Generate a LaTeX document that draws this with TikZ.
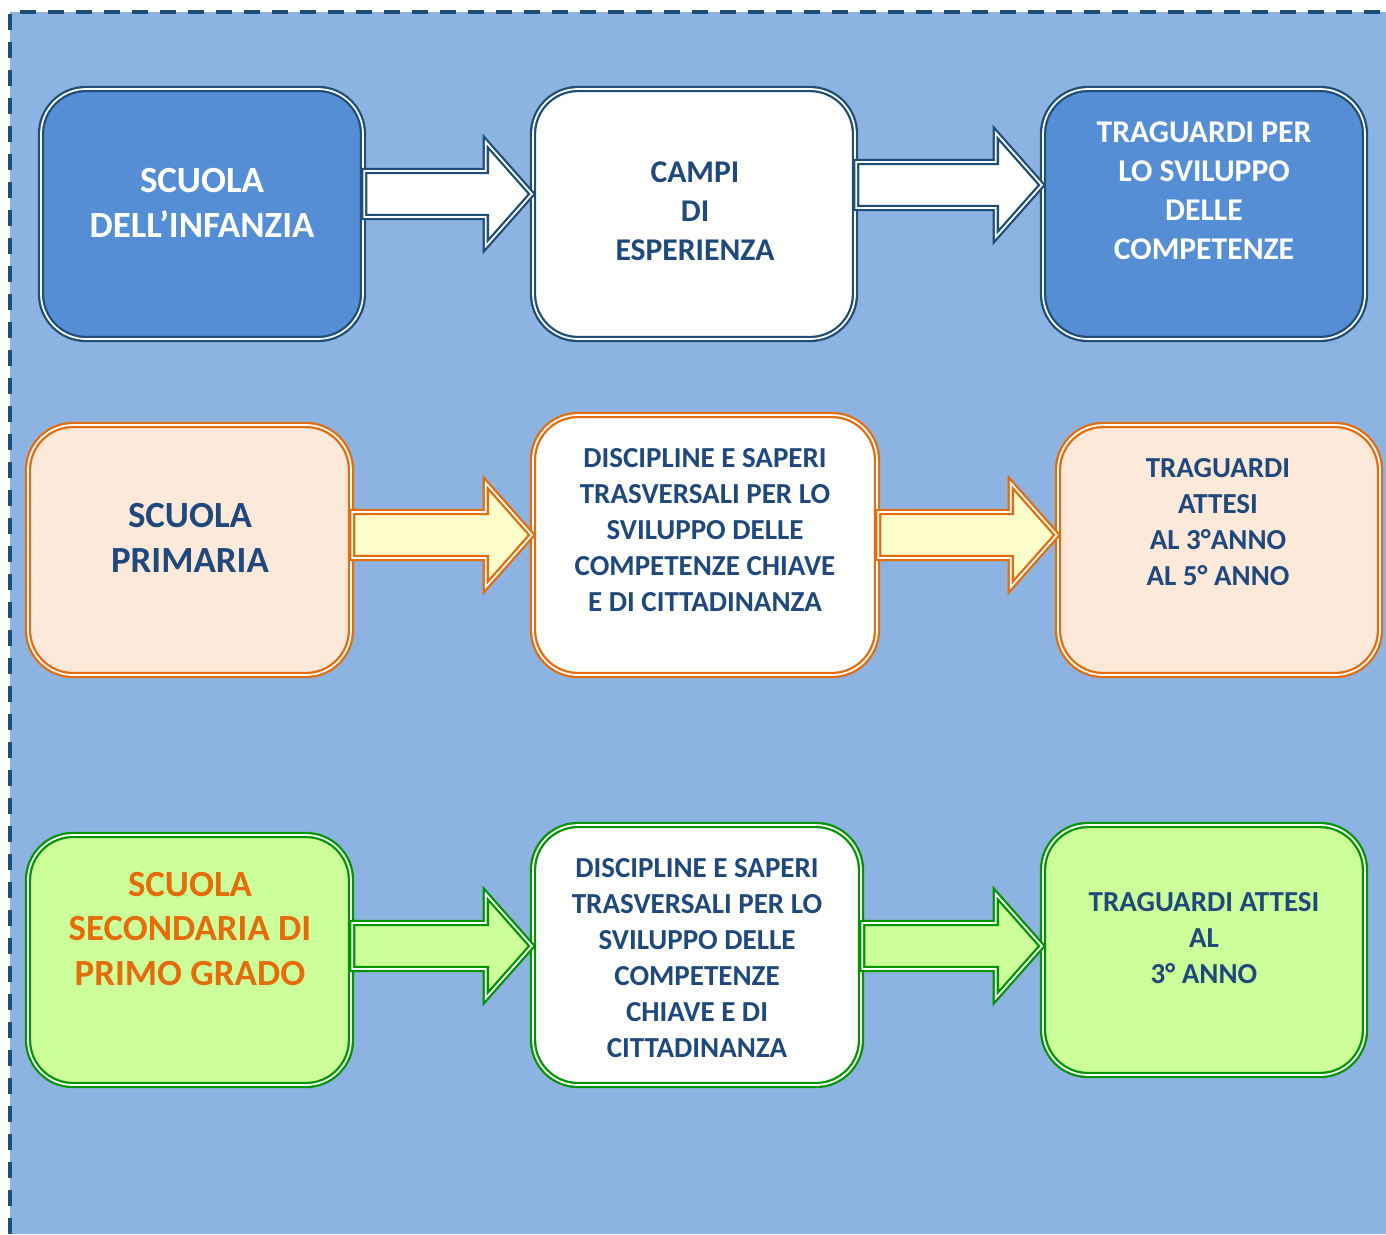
\documentclass[tikz,border=0pt]{standalone}
\usepackage{fontspec}
\setmainfont{Carlito}
\usetikzlibrary{calc}
\usepackage{xcolor}
\definecolor{sfondo}{RGB}{141,179,226}
\definecolor{bordoblu}{RGB}{31,78,121}
\definecolor{testoblu}{RGB}{31,73,125}
\definecolor{infanziablu}{RGB}{85,142,213}
\definecolor{arancio}{RGB}{228,108,10}
\definecolor{pesca}{RGB}{253,233,217}
\definecolor{giallino}{RGB}{255,255,204}
\definecolor{verde}{RGB}{0,150,0}
\definecolor{verdino}{RGB}{204,255,153}

% freccia larga da un box all'altro, #4 = quota y dell'asse
\newcommand{\frecciona}[4][]{%
  \draw[freccia,#1] let \p1=(#2.east), \p2=(#3.west), \p3=(0,#4) in
    (\x1,\y3+4.6mm) -- (\x2-9.2mm,\y3+4.6mm) -- (\x2-9.2mm,\y3+10.4mm) -- (\x2,\y3)
    -- (\x2-9.2mm,\y3-10.4mm) -- (\x2-9.2mm,\y3-4.6mm) -- (\x1,\y3-4.6mm) -- cycle;
}

\begin{document}
\begin{tikzpicture}[x=0.2mm, y=-0.2mm, font=\bfseries,
    box/.style={rounded corners=9mm, line width=1.3pt, double=white, double distance=1pt,
      minimum width=64.4mm, minimum height=50mm, inner sep=0pt},
    freccia/.style={line width=1.3pt, double=white, double distance=1pt, line join=miter},
    grande/.style={align=center, font=\bfseries\fontsize{21}{25.6}\selectfont},
    medio/.style={align=center, font=\bfseries\fontsize{18}{22.2}\selectfont},
    piccolo/.style={align=center, font=\bfseries\fontsize{16.5}{20.5}\selectfont}]
    \useasboundingbox (0,0) rectangle (1386,1234);
    \fill[sfondo] (10,12) rectangle (1386,1234);
    \draw[bordoblu, line width=0.8mm, dash pattern=on 3.2mm off 2.4mm] (10,1234) -- (10,12) -- (1386,12);

    % scuola dell'infanzia
    \node[box, draw=bordoblu, fill=infanziablu] (infanzia) at (202,214) {};
    \node[box, draw=bordoblu, fill=white] (campi) at (694,214) {};
    \node[box, draw=bordoblu, fill=infanziablu] (tragInf) at (1204,214) {};
    \node[grande, text=white] (infanziaT) at (202,203) {SCUOLA\\DELL’INFANZIA};
    \node[medio, text=testoblu] (campiT) at (695,211) {CAMPI\\DI\\ESPERIENZA};
    \node[medio, text=white] (tragInfT) at (1204,191) {TRAGUARDI PER\\LO SVILUPPO\\DELLE\\COMPETENZE};
    \frecciona[draw=bordoblu, fill=white]{infanzia}{campi}{194}
    \frecciona[draw=bordoblu, fill=white]{campi}{tragInf}{185}

    % scuola primaria
    \node[box, draw=arancio, fill=pesca, minimum width=64.6mm] (primaria) at (189.5,550) {};
    \node[box, draw=arancio, fill=white, minimum width=68.8mm, minimum height=52mm] (discPrim) at (705,545) {};
    \node[box, draw=arancio, fill=pesca] (tragPrim) at (1219,550) {};
    \node[grande, text=testoblu] (primariaT) at (190,538) {SCUOLA\\PRIMARIA};
    \node[piccolo, text=testoblu] (discPrimT) at (705,530) {DISCIPLINE E SAPERI\\TRASVERSALI PER LO\\SVILUPPO DELLE\\COMPETENZE CHIAVE\\E DI CITTADINANZA};
    \node[piccolo, text=testoblu] (tragPrimT) at (1218,522) {TRAGUARDI\\ATTESI\\AL 3°ANNO\\AL 5° ANNO};
    \frecciona[draw=arancio, fill=giallino]{primaria}{discPrim}{535}
    \frecciona[draw=arancio, fill=giallino]{discPrim}{tragPrim}{535}

    % scuola secondaria di primo grado
    \node[box, draw=verde, fill=verdino, minimum width=64.6mm] (secondaria) at (189.5,960) {};
    \node[box, draw=verde, fill=white, minimum width=65.6mm, minimum height=52mm] (discSec) at (697,955) {};
    \node[box, draw=verde, fill=verdino] (tragSec) at (1204,950) {};
    \node[grande, text=arancio] (secondariaT) at (190,929) {SCUOLA\\SECONDARIA DI\\PRIMO GRADO};
    \node[piccolo, text=testoblu] (discSecT) at (697,958) {DISCIPLINE E SAPERI\\TRASVERSALI PER LO\\SVILUPPO DELLE\\COMPETENZE\\CHIAVE E DI\\CITTADINANZA};
    \node[piccolo, text=testoblu] (tragSecT) at (1204,938) {TRAGUARDI ATTESI\\AL\\3° ANNO};
    \frecciona[draw=verde, fill=verdino]{secondaria}{discSec}{946}
    \frecciona[draw=verde, fill=verdino]{discSec}{tragSec}{946}
\end{tikzpicture}
\end{document}
